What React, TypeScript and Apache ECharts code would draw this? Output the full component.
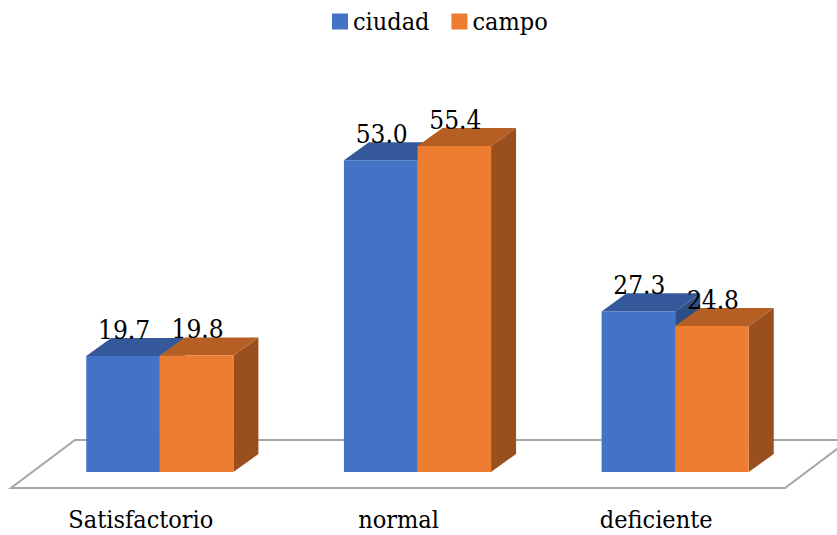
import React, { useEffect, useRef } from "react";
import * as echarts from "echarts";

const categories = ["Satisfactorio", "normal", "deficiente"];
const ciudad = [19.7, 53.0, 27.3];
const campo = [19.8, 55.4, 24.8];
const seriesNames = ["ciudad", "campo"];

const FONT = "DejaVu Serif Condensed";

function makeRender(pos: number, front: string, top: string, side: string) {
  return (params: any, api: any) => {
    const idx = api.value(0);
    const v = api.value(1);
    const base = api.coord([idx, 0]);
    const tp = api.coord([idx, v]);
    const band = api.size([1, 0])[0];
    const bw = band * 0.2855;
    const x0 = pos === 0 ? base[0] - bw : base[0];
    const x1 = x0 + bw;
    const yb = base[1];
    const yt = tp[1];
    const dx = bw * 0.34;
    const dy = bw * 0.245;
    return {
      type: "group",
      children: [
        {
          type: "polygon",
          shape: { points: [[x1, yb], [x1 + dx, yb - dy], [x1 + dx, yt - dy], [x1, yt]] },
          style: { fill: side },
        },
        {
          type: "polygon",
          shape: { points: [[x0, yt], [x1, yt], [x1 + dx, yt - dy], [x0 + dx, yt - dy]] },
          style: { fill: top },
        },
        {
          type: "rect",
          shape: { x: x0, y: yt, width: bw, height: yb - yt },
          style: { fill: front },
        },
        {
          type: "text",
          z2: 100,
          x: (x0 + x1) / 2 + 1,
          y: yt - dy + 5,
          style: {
            text: Number(v).toFixed(1),
            fill: "#000",
            fontSize: 26,
            fontFamily: FONT,
            align: "center",
            verticalAlign: "bottom",
          },
        },
      ],
    };
  };
}

export default function App() {
  const ref = useRef<HTMLDivElement>(null);
  useEffect(() => {
    document.body.style.margin = "0";
    const chart = echarts.init(ref.current!, null, { renderer: "svg" });
    chart.setOption({
      animation: false,
      backgroundColor: "#fff",
      legend: {
        top: 4,
        left: 327,
        icon: "rect",
        itemWidth: 16,
        itemHeight: 16,
        itemGap: 22,
        data: seriesNames,
        textStyle: { fontSize: 25, fontFamily: FONT, color: "#000" },
      },
      graphic: [
        {
          type: "polygon",
          z: 0,
          shape: { points: [[11, 488], [785, 488], [849, 440], [75, 440]] },
          style: { fill: "#fff", stroke: "#A6A6A6", lineWidth: 2 },
        },
      ],
      grid: { left: 31, right: 33, top: 119, bottom: 63 },
      xAxis: {
        type: "category",
        data: categories,
        axisLine: { show: false },
        axisTick: { show: false },
        axisLabel: {
          margin: 35,
          fontSize: 25,
          lineHeight: 24,
          fontFamily: FONT,
          color: "#000",
          padding: [0, 38, 0, 0],
        },
      },
      yAxis: { type: "value", min: 0, max: 60, show: false },
      series: [
        {
          name: seriesNames[0],
          type: "custom",
          z: 2,
          itemStyle: { color: "#4472C4" },
          encode: { x: 0, y: 1 },
          data: ciudad.map((v, i) => [i, v]),
          renderItem: makeRender(0, "#4472C4", "#34589A", "#2E4E88"),
        },
        {
          name: seriesNames[1],
          type: "custom",
          z: 2,
          itemStyle: { color: "#ED7D31" },
          encode: { x: 0, y: 1 },
          data: campo.map((v, i) => [i, v]),
          renderItem: makeRender(1, "#ED7D31", "#B55F24", "#9A4F1E"),
        },
      ],
    });
    return () => chart.dispose();
  }, []);
  return <div ref={ref} style={{ width: 837, height: 535 }} />;
}
